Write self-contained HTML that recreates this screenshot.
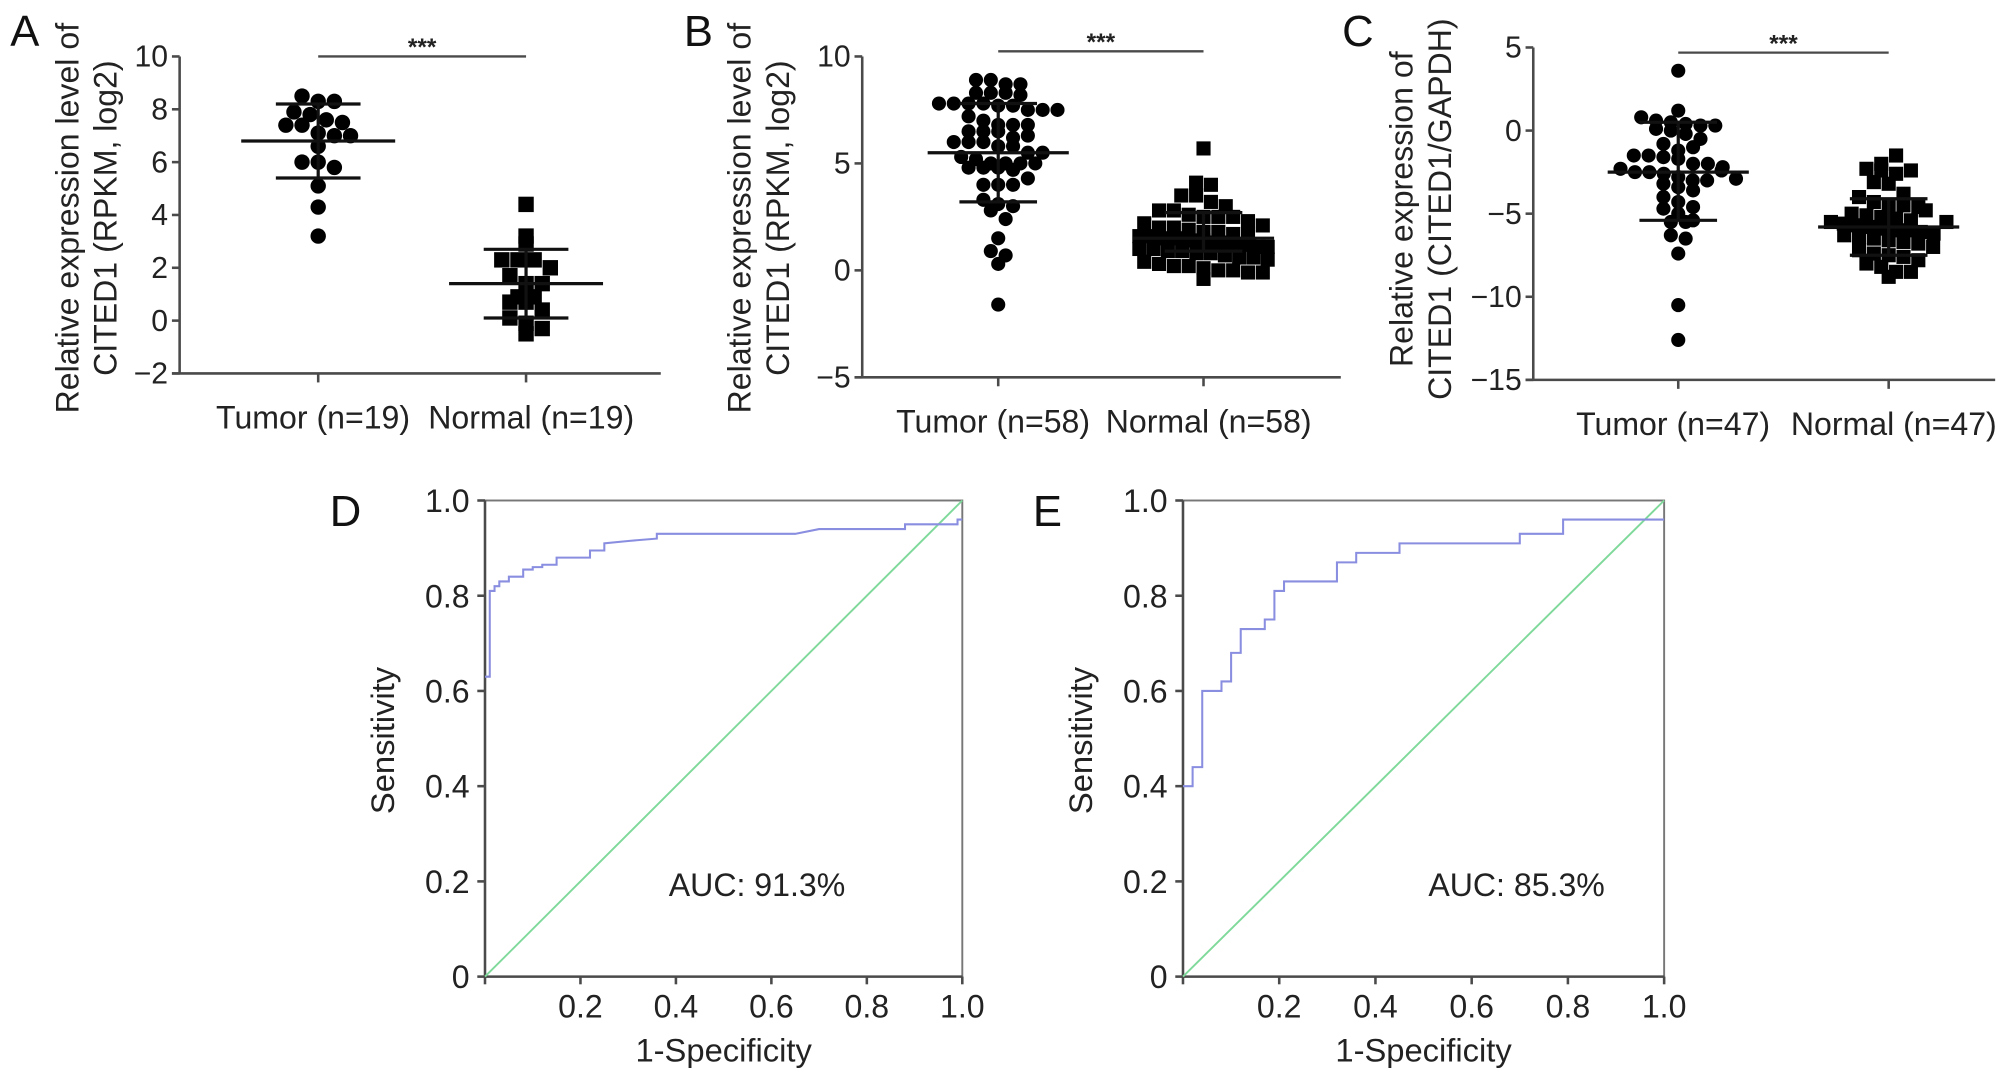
<!DOCTYPE html>
<html><head><meta charset="utf-8"><style>
html,body{margin:0;padding:0;background:#fff;}
svg{display:block;font-family:"Liberation Sans",Arial,sans-serif;}
</style></head><body>
<svg id="fig" width="2008" height="1078" viewBox="0 0 1565 840" preserveAspectRatio="none" xmlns="http://www.w3.org/2000/svg"></svg>
<script>
// ---------- DATA ----------
const groupLabels = ["Tumor", "Normal"];
const aTumor = [8.5,8.3,8.3,7.9,7.8,7.6,7.5,7.4,7.4,7.1,7.0,7.0,6.6,6.0,6.0,5.8,5.1,4.3,3.2];
const aNormal = [4.4,3.2,2.9,2.3,2.3,2.3,2.0,1.7,1.4,1.4,0.9,0.9,0.7,0.7,0.4,0.1,-0.1,-0.3,-0.5];
const aStats = [[6.8,8.2,5.4],[1.4,2.7,0.1]];
const aTicks = [10,8,6,4,2,0,-2];
const bTumor = [8.9,8.9,8.7,8.7,8.3,8.3,8.3,8.2,7.8,7.8,7.8,7.8,7.7,7.7,7.5,7.5,7.5,7.2,7.0,6.8,6.8,6.8,6.5,6.5,6.5,6.2,6.0,6.0,6.0,5.8,5.8,5.5,5.5,5.3,5.2,5.0,5.0,5.0,5.0,4.8,4.8,4.8,4.7,4.3,4.0,4.0,4.0,3.3,3.1,3.0,2.8,2.4,1.5,0.9,0.7,0.3,-1.6,6.3];
const bNormal = [5.7,4.1,4.0,3.5,3.5,3.2,3.0,2.8,2.8,2.6,2.5,2.5,2.5,2.3,2.2,2.0,2.0,1.9,1.8,1.8,1.7,1.7,1.6,1.6,1.5,1.5,1.5,1.4,1.4,1.4,1.3,1.3,1.3,1.2,1.2,1.1,1.1,1.0,1.0,0.9,0.9,0.8,0.8,0.7,0.6,0.6,0.5,0.4,0.3,0.2,0.2,0.1,0.0,0.0,-0.1,-0.1,-0.4,2.1];
const bStats = [[5.5,7.8,3.2],[1.5,2.7,0.9]];
const bTicks = [10,5,0,-5];
const cTumor = [3.6,1.2,0.8,0.6,0.5,0.4,0.3,0.3,0.1,0.0,-0.2,-0.5,-0.8,-1.2,-1.5,-1.5,-1.6,-1.7,-2.0,-2.0,-2.2,-2.3,-2.5,-2.5,-2.6,-2.8,-3.0,-3.0,-3.2,-3.4,-4.0,-4.3,-4.6,-4.7,-5.0,-5.4,-5.5,-5.5,-6.3,-6.5,-7.4,-10.5,-12.6,-1.0,-2.4,-3.6,-2.9];
const cNormal = [-2.0,-1.5,-2.3,-2.4,-2.6,-2.4,-3.1,-3.2,-3.8,-4.0,-4.3,-4.5,-4.5,-4.6,-5.0,-5.1,-5.2,-5.3,-5.4,-5.5,-5.6,-5.7,-5.8,-5.9,-6.0,-6.0,-6.1,-6.2,-6.3,-6.4,-6.5,-6.6,-6.7,-6.8,-7.0,-7.2,-7.4,-7.5,-7.6,-7.8,-8.0,-8.2,-8.5,-8.5,-8.8,-4.8,-5.5];
const cStats = [[-2.5,0.5,-5.4],[-5.8,-4.1,-7.5]];
const cTicks = [5,0,-5,-10,-15];
const rocTicks = [0,0.2,0.4,0.6,0.8,1.0];
const dFpr = [0,0.01,0.01,0.02,0.02,0.03,0.03,0.05,0.05,0.08,0.08,0.10,0.10,0.12,0.12,0.15,0.15,0.22,0.22,0.25,0.25,0.30,0.36,0.36,0.65,0.70,0.88,0.88,0.99,0.99,1.0];
const dTpr = [0.63,0.63,0.81,0.81,0.82,0.82,0.83,0.83,0.84,0.84,0.855,0.855,0.86,0.86,0.865,0.865,0.88,0.88,0.895,0.895,0.91,0.915,0.92,0.93,0.93,0.94,0.94,0.95,0.95,0.96,0.96];
const eFpr = [0,0.02,0.02,0.04,0.04,0.08,0.08,0.10,0.10,0.12,0.12,0.17,0.17,0.19,0.19,0.21,0.21,0.32,0.32,0.36,0.36,0.45,0.45,0.70,0.70,0.79,0.79,1.0];
const eTpr = [0.40,0.40,0.44,0.44,0.60,0.60,0.62,0.62,0.68,0.68,0.73,0.73,0.75,0.75,0.81,0.81,0.83,0.83,0.87,0.87,0.89,0.89,0.91,0.91,0.93,0.93,0.96,0.96];

// ---------- HELPERS ----------
const NS = "http://www.w3.org/2000/svg";
const svg = document.getElementById('fig');
function el(tag, attrs, parent, text){
  const e = document.createElementNS(NS, tag);
  for (const k in attrs) e.setAttribute(k, attrs[k]);
  if (text !== undefined) e.textContent = text;
  (parent || svg).appendChild(e);
  return e;
}
const AX = "#4a4a4a";

function scatterPanel(o){
  const g = el('g', {});
  
  
  const y = v => o.y0 + (o.max - v) / (o.max - o.min) * (o.y1 - o.y0);
  const ya = el('line', {x1:o.ax, y1:o.y0, x2:o.ax, y2:o.y1, stroke:AX, 'stroke-width':2}, g);
   
  const xa = el('line', {x1:o.ax-6, y1:o.y1, x2:o.axEnd, y2:o.y1, stroke:AX, 'stroke-width':2}, g);
   
  o.ticks.forEach(t => {
    el('line', {x1:o.ax-6, y1:y(t), x2:o.ax, y2:y(t), stroke:AX, 'stroke-width':2}, g);
    const tl = el('text', {x:o.ax-9, y:y(t)+8, 'text-anchor':'end', 'font-size':23.5, fill:'#222'}, g, String(t).replace('-', '\u2212'));
     
  });
  [o.cx0, o.cx1].forEach((cx, i) => {
    el('line', {x1:cx, y1:o.y1, x2:cx, y2:o.y1+7, stroke:AX, 'stroke-width':2}, g);
    const lab = el('text', {x:cx+(i===0?-4:4), y:o.y1+43, 'text-anchor':'middle', 'font-size':25, fill:'#222'}, g, groupLabels[i] + " (n=" + o.n + ")");
     
  });
  const sb = el('line', {x1:o.cx0, y1:o.sigY, x2:o.cx1, y2:o.sigY, stroke:AX, 'stroke-width':1.8}, g);
   
  const st = el('text', {x:(o.cx0+o.cx1)/2, y:o.sigY-1, 'text-anchor':'middle', 'font-size':19, 'font-weight':'bold', fill:'#222'}, g, "***");
   
  const tt = el('text', {transform:`translate(${o.titleX},${o.titleY}) rotate(-90)`, 'text-anchor':'middle', 'font-size':25, fill:'#222'}, g);
   
  el('tspan', {x:0, y:0}, tt, o.title[0]);
  el('tspan', {x:0, y:30}, tt, o.title[1]);
  const pl = el('text', {x:o.letterX, y:36, 'font-size':34, fill:'#111'}, g, o.letter);
   
  // points: bin by value, spread each bin horizontally (capped width)
  [o.tumor, o.normal].forEach((vals, gi) => {
    const cx = gi === 0 ? o.cx0 : o.cx1;
    const bh = o.r * 1.9;
    const bins = {};
    vals.forEach(v => {
      const b = Math.round(y(v) / bh);
      (bins[b] = bins[b] || []).push(v);
    });
    Object.keys(bins).forEach(b => {
      const arr = bins[b];
      const n = arr.length;
      const w = Math.min((n - 1) * o.r * 2.1, o.maxW * 2);
      const step = n > 1 ? w / (n - 1) : 0;
      // order: center outwards
      arr.forEach((v, j) => {
        const px = cx - w / 2 + j * step;
        const py = y(v);
        let m;
        if (gi === 0) m = el('circle', {cx:px, cy:py, r:o.r, fill:'#000'}, g);
        else m = el('rect', {x:px-o.r, y:py-o.r, width:o.r*2, height:o.r*2, fill:'#000'}, g);
        
        
      });
    });
    const s = o.stats[gi];
    const ew = o.errW;
    const mean = el('line', {x1:cx-ew, y1:y(s[0]), x2:cx+ew, y2:y(s[0]), stroke:'#111', 'stroke-width':2.5}, g);
     
    const eb = el('path', {d:`M${cx},${y(s[1])}V${y(s[2])}M${cx-ew*0.55},${y(s[1])}H${cx+ew*0.55}M${cx-ew*0.55},${y(s[2])}H${cx+ew*0.55}`, stroke:'#111', 'stroke-width':2.5, fill:'none'}, g);
     
  });
}

scatterPanel({name:'panel-a', letter:'A', letterX:8, ax:140, axEnd:515, y0:44, y1:291, max:10, min:-2, ticks:aTicks, cx0:248, cx1:410, n:19, sigY:44, r:6, errW:60, maxW:48,
  tumor:aTumor, normal:aNormal, stats:aStats, titleX:61, titleY:170, title:["Relative expression level of","CITED1 (RPKM, log2)"]});
scatterPanel({name:'panel-b', letter:'B', letterX:533, ax:672, axEnd:1045, y0:44, y1:294, max:10, min:-5, ticks:bTicks, cx0:778, cx1:938, n:58, sigY:40, r:5.5, errW:55, maxW:50,
  tumor:bTumor, normal:bNormal, stats:bStats, titleX:585, titleY:170, title:["Relative expression level of","CITED1 (RPKM, log2)"]});
scatterPanel({name:'panel-c', letter:'C', letterX:1046, ax:1195, axEnd:1555, y0:37, y1:296, max:5, min:-15, ticks:cTicks, cx0:1308, cx1:1472, n:47, sigY:41, r:5.5, errW:55, maxW:45,
  tumor:cTumor, normal:cNormal, stats:cStats, titleX:1101, titleY:163, title:["Relative expression of","CITED1 (CITED1/GAPDH)"]});

function rocPanel(o){
  const g = el('g', {});
  
  
  const x = v => o.x0 + v * (o.x1 - o.x0);
  const y = v => o.y1 - v * (o.y1 - o.y0);
  const frame = el('rect', {x:o.x0, y:o.y0, width:o.x1-o.x0, height:o.y1-o.y0, fill:'none', stroke:'#777', 'stroke-width':1.5}, g);
   
  el('line', {x1:o.x0, y1:o.y0, x2:o.x0, y2:o.y1, stroke:AX, 'stroke-width':2}, g);
  el('line', {x1:o.x0, y1:o.y1, x2:o.x1, y2:o.y1, stroke:AX, 'stroke-width':2}, g);
  rocTicks.forEach(t => {
    el('line', {x1:o.x0-6, y1:y(t), x2:o.x0, y2:y(t), stroke:AX, 'stroke-width':2}, g);
    const yl = el('text', {x:o.x0-12, y:y(t)+9, 'text-anchor':'end', 'font-size':25, fill:'#222'}, g, t === 0 ? '0' : t.toFixed(1));
     
    el('line', {x1:x(t), y1:o.y1, x2:x(t), y2:o.y1+6, stroke:AX, 'stroke-width':2}, g);
    if (t > 0) {
      const xl = el('text', {x:x(t), y:o.y1+32, 'text-anchor':'middle', 'font-size':25, fill:'#222'}, g, t.toFixed(1));
       
    }
  });
  const diag = el('line', {x1:x(0), y1:y(0), x2:x(1), y2:y(1), stroke:'#7fd99a', 'stroke-width':1.5}, g);
   
  const pts = o.fpr.map((f,i) => x(f) + ',' + y(o.tpr[i])).join(' ');
  const curve = el('polyline', {points:pts, fill:'none', stroke:'#8a8ee0', 'stroke-width':1.6}, g);
   
  const auc = el('text', {x:o.aucX, y:698, 'text-anchor':'middle', 'font-size':25, fill:'#222'}, g, o.auc);
   
  const xt = el('text', {x:(o.x0+o.x1)/2, y:827, 'text-anchor':'middle', 'font-size':25.5, fill:'#222'}, g, '1-Specificity');
   
  const ytt = el('text', {transform:`translate(${o.x0-71},${577}) rotate(-90)`, 'text-anchor':'middle', 'font-size':25.5, fill:'#222'}, g, 'Sensitivity');
   
  const pl = el('text', {x:o.letterX, y:410, 'font-size':34, fill:'#111'}, g, o.letter);
   
}
rocPanel({name:'panel-d', letter:'D', letterX:257, x0:378, x1:750, y0:390, y1:761, fpr:dFpr, tpr:dTpr, auc:'AUC: 91.3%', aucX:590});
rocPanel({name:'panel-e', letter:'E', letterX:805, x0:922, x1:1297, y0:390, y1:761, fpr:eFpr, tpr:eTpr, auc:'AUC: 85.3%', aucX:1182});
</script>
</body></html>
